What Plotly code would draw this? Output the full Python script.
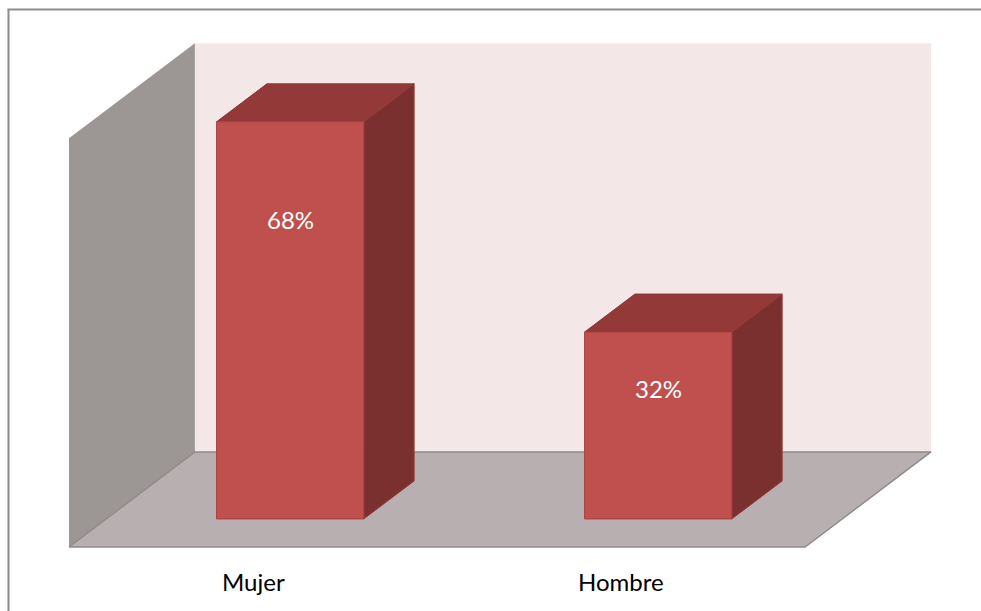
import plotly.graph_objects as go

# ---- data -------------------------------------------------------------
categories = ["Mujer", "Hombre"]
shares = [68, 32]                 # percent
value_labels = ["68%", "32%"]
axis_max = 70                     # top of the value axis (percent)

# ---- oblique "3-D" projection ------------------------------------------
# x is in category units, y in percent; depth 0 is the front edge of the
# floor and depth 1 is the back wall.
DEPTH_DX = 0.342      # category units shifted per unit of depth
DEPTH_DY = 16.27      # percent units shifted per unit of depth
BAR_WIDTH = 0.40      # category units
BAR_D0, BAR_D1 = 0.295, 0.695

# axis ranges so that the chart fills the 981x611 canvas
X_RANGE = [-0.1875, 2.478]
Y_RANGE = [-10.96, 93.66]

C_BACK = "#F3E7E7"
C_LEFT = "#9C9695"
C_FLOOR = "#B8B0B0"
C_FLOOR_LINE = "#8F8B8B"
C_FRONT = "#C0504D"
C_TOP = "#933A38"
C_SIDE = "#7B3030"


def proj(u, v, d):
    return u + DEPTH_DX * d, v + DEPTH_DY * d


fig = go.Figure()


def face(points, fill, line_color=None, line_width=0):
    pts = [proj(*p) for p in points]
    xs = [p[0] for p in pts] + [pts[0][0]]
    ys = [p[1] for p in pts] + [pts[0][1]]
    fig.add_trace(go.Scatter(
        x=xs, y=ys, mode="lines", fill="toself", fillcolor=fill,
        line=dict(color=line_color or fill, width=line_width),
        hoverinfo="skip", showlegend=False,
    ))


n = len(categories)

# walls and floor
face([(0, 0, 1), (n, 0, 1), (n, axis_max, 1), (0, axis_max, 1)], C_BACK)
face([(0, 0, 0), (0, 0, 1), (0, axis_max, 1), (0, axis_max, 0)], C_LEFT)
face([(0, 0, 0), (n, 0, 0), (n, 0, 1), (0, 0, 1)], C_FLOOR, C_FLOOR_LINE, 1.5)

# bars
for i, val in enumerate(shares):
    x0 = i + 0.5 - BAR_WIDTH / 2
    x1 = i + 0.5 + BAR_WIDTH / 2
    face([(x0, val, BAR_D0), (x1, val, BAR_D0), (x1, val, BAR_D1), (x0, val, BAR_D1)],
         C_TOP, "#8A3634", 1)
    face([(x1, 0, BAR_D0), (x1, 0, BAR_D1), (x1, val, BAR_D1), (x1, val, BAR_D0)],
         C_SIDE, "#943B39", 1)
    face([(x0, 0, BAR_D0), (x1, 0, BAR_D0), (x1, val, BAR_D0), (x0, val, BAR_D0)],
         C_FRONT, "#A8423F", 1)

annotations = []
for i, (cat, val, lab) in enumerate(zip(categories, shares, value_labels)):
    # value label on the front face of the bar
    lx, ly = proj(i + 0.5, 0.8 * val - 3.2, BAR_D0)
    annotations.append(dict(
        x=lx, y=ly, text=lab, showarrow=False, xref="x", yref="y",
        font=dict(family="Lato, Carlito, sans-serif", size=24, color="white"),
    ))
    # category label under the floor
    cx, cy = proj(i + 0.5, 0, 0)
    annotations.append(dict(
        x=cx, y=cy, text=cat, showarrow=False, xref="x", yref="y",
        yshift=-35,
        font=dict(family="Lato, Carlito, sans-serif", size=24, color="black"),
    ))

# chart-area frame: only the left and top edges fall inside the canvas
frame_x = 8.5 / 981
frame_y = 1 - 9.5 / 611
frame_line = dict(color="#8C8C8C", width=2)
shapes = [
    dict(type="line", xref="paper", yref="paper",
         x0=frame_x, x1=frame_x, y0=0, y1=frame_y, line=frame_line, layer="above"),
    dict(type="line", xref="paper", yref="paper",
         x0=frame_x - 1 / 981, x1=1, y0=frame_y, y1=frame_y, line=frame_line, layer="above"),
]

fig.update_layout(
    width=981, height=611,
    margin=dict(l=0, r=0, t=0, b=0),
    paper_bgcolor="white", plot_bgcolor="white",
    xaxis=dict(range=X_RANGE, visible=False, fixedrange=True),
    yaxis=dict(range=Y_RANGE, visible=False, fixedrange=True),
    annotations=annotations,
    shapes=shapes,
)

fig.write_html("out.html")
